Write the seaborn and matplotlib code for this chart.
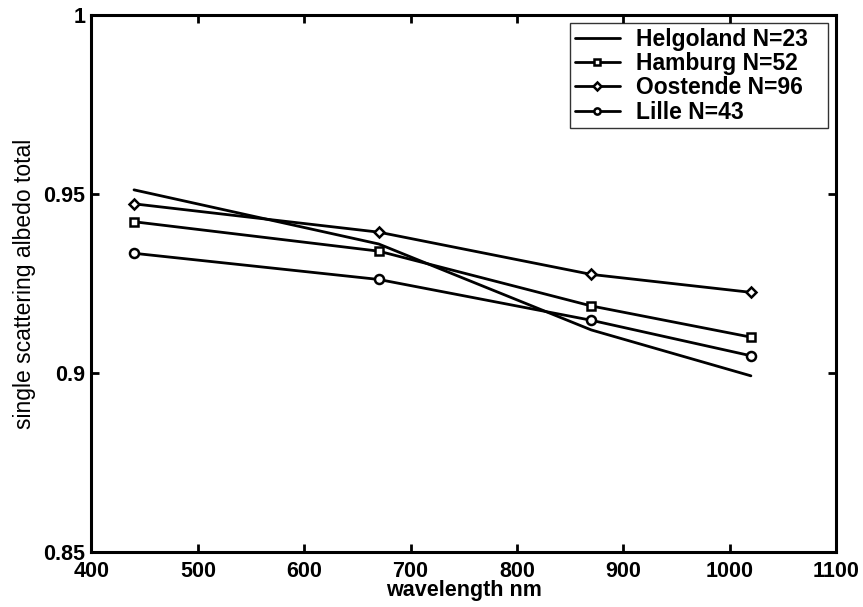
import matplotlib
matplotlib.use("Agg")
import matplotlib.pyplot as plt
import seaborn as sns
import pandas as pd

# Spectral single scattering albedo per site
wavelength = [440, 670, 870, 1020]
helgoland = [0.9512, 0.9361, 0.9121, 0.8993]
hamburg = [0.9423, 0.9341, 0.9188, 0.9101]
oostende = [0.9473, 0.9394, 0.9276, 0.9226]
lille = [0.9335, 0.9262, 0.9148, 0.9049]

site_labels = ["Helgoland N=23", "Hamburg N=52", "Oostende N=96", "Lille N=43"]
site_values = [helgoland, hamburg, oostende, lille]
site_markers = [None, "s", "D", "o"]
marker_sizes = [0, 6, 5, 6.5]

x_ticks = [400, 500, 600, 700, 800, 900, 1000, 1100]
y_ticks = [0.85, 0.9, 0.95, 1.0]
y_tick_labels = ["0.85", "0.9", "0.95", "1"]

sns.set_theme(style="white")
plt.rcParams["font.family"] = ["Liberation Sans", "DejaVu Sans"]
plt.rcParams["text.color"] = "black"
plt.rcParams["axes.labelcolor"] = "black"

fig = plt.figure(figsize=(8.63, 6.07), dpi=100)
ax = fig.add_axes([0.106, 0.0898, 0.8627, 0.8855])

rows = []
for label, vals in zip(site_labels, site_values):
    for w, v in zip(wavelength, vals):
        rows.append({"wavelength": w, "albedo": v, "site": label})
df = pd.DataFrame(rows)

for label, marker, ms in zip(site_labels, site_markers, marker_sizes):
    sub = df[df["site"] == label]
    sns.lineplot(
        data=sub, x="wavelength", y="albedo", ax=ax, color="black",
        linewidth=2.0, marker=marker if marker else None, markersize=ms,
        markerfacecolor="white", markeredgecolor="black", markeredgewidth=1.8,
        label=label, sort=False,
    )

ax.set_xlim(400, 1100)
ax.set_ylim(0.85, 1.0)
ax.set_xticks(x_ticks)
ax.set_xticklabels([str(t) for t in x_ticks], fontsize=15.5, fontweight="bold")
ax.set_yticks(y_ticks)
ax.set_yticklabels(y_tick_labels, fontsize=15.5, fontweight="bold")
ax.tick_params(direction="in", length=6, width=2, top=True, right=True,
               bottom=True, left=True, colors="black")
ax.tick_params(axis="x", pad=6)
ax.tick_params(axis="y", pad=4.5)
for side in ax.spines.values():
    side.set_visible(True)
    side.set_linewidth(2.2)
    side.set_color("black")

ax.set_xlabel("wavelength nm", fontsize=15.5, fontweight="bold", labelpad=-1)
ax.set_ylabel("single scattering albedo total", fontsize=16.5, labelpad=5)

# Legend box spans a fixed width in axes coordinates, text left-aligned
leg = ax.legend(loc="upper right", mode="expand", frameon=True, fancybox=False,
                edgecolor="black", handlelength=2.0, handletextpad=0.7,
                borderpad=0.2, labelspacing=0.06, borderaxespad=0,
                bbox_to_anchor=(0.6427, 0.5, 0.3466, 0.4851),
                prop={"weight": "bold", "size": 16.5})
leg.get_frame().set_linewidth(1.0)
for h in leg.legend_handles:
    h.set_markersize(4.5)

fig.savefig("out.png", dpi=100, facecolor="white")
